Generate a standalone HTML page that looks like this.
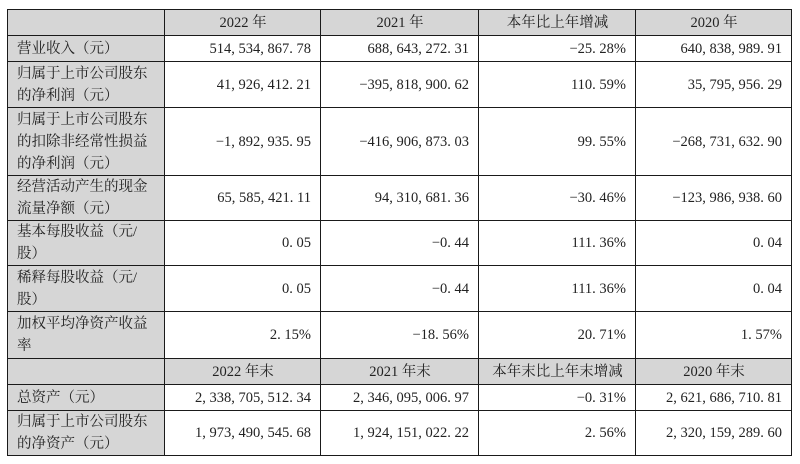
<!DOCTYPE html>
<html><head><meta charset="utf-8"><style>
body{margin:0;background:#fff;width:800px;height:464px;overflow:hidden}
table{position:absolute;left:7px;top:9px;border-collapse:collapse;table-layout:fixed;font-family:"Liberation Serif","Noto Serif CJK SC",serif;font-size:14.5px;color:#222}
td{border:1.6px solid #1a1a1a;padding:0 9px 0 10px;line-height:22px;vertical-align:middle;text-align:right;white-space:nowrap;overflow:hidden}
td.l{text-align:left;background:#d6d6d6;padding-left:9px;white-space:normal}
tr.h td{background:#d6d6d6;text-align:center}
</style></head><body>
<table>
<colgroup><col style="width:157px"><col style="width:156px"><col style="width:158px"><col style="width:157px"><col style="width:156px"></colgroup>
<tr class="h" style="height:26px"><td></td><td>2022 年</td><td>2021 年</td><td>本年比上年增减</td><td>2020 年</td></tr>
<tr style="height:26px"><td class="l">营业收入（元）</td><td>514, 534, 867. 78</td><td>688, 643, 272. 31</td><td>−25. 28%</td><td>640, 838, 989. 91</td></tr>
<tr style="height:46px"><td class="l">归属于上市公司股东的净利润（元）</td><td>41, 926, 412. 21</td><td>−395, 818, 900. 62</td><td>110. 59%</td><td>35, 795, 956. 29</td></tr>
<tr style="height:68px"><td class="l">归属于上市公司股东的扣除非经常性损益的净利润（元）</td><td>−1, 892, 935. 95</td><td>−416, 906, 873. 03</td><td>99. 55%</td><td>−268, 731, 632. 90</td></tr>
<tr style="height:44px"><td class="l">经营活动产生的现金流量净额（元）</td><td>65, 585, 421. 11</td><td>94, 310, 681. 36</td><td>−30. 46%</td><td>−123, 986, 938. 60</td></tr>
<tr style="height:45px"><td class="l">基本每股收益（元/股）</td><td>0. 05</td><td>−0. 44</td><td>111. 36%</td><td>0. 04</td></tr>
<tr style="height:46px"><td class="l">稀释每股收益（元/股）</td><td>0. 05</td><td>−0. 44</td><td>111. 36%</td><td>0. 04</td></tr>
<tr style="height:47px"><td class="l">加权平均净资产收益率</td><td>2. 15%</td><td>−18. 56%</td><td>20. 71%</td><td>1. 57%</td></tr>
<tr class="h" style="height:26px"><td></td><td>2022 年末</td><td>2021 年末</td><td>本年末比上年末增减</td><td>2020 年末</td></tr>
<tr style="height:26px"><td class="l">总资产（元）</td><td>2, 338, 705, 512. 34</td><td>2, 346, 095, 006. 97</td><td>−0. 31%</td><td>2, 621, 686, 710. 81</td></tr>
<tr style="height:45px"><td class="l">归属于上市公司股东的净资产（元）</td><td>1, 973, 490, 545. 68</td><td>1, 924, 151, 022. 22</td><td>2. 56%</td><td>2, 320, 159, 289. 60</td></tr>
</table>
</body></html>
